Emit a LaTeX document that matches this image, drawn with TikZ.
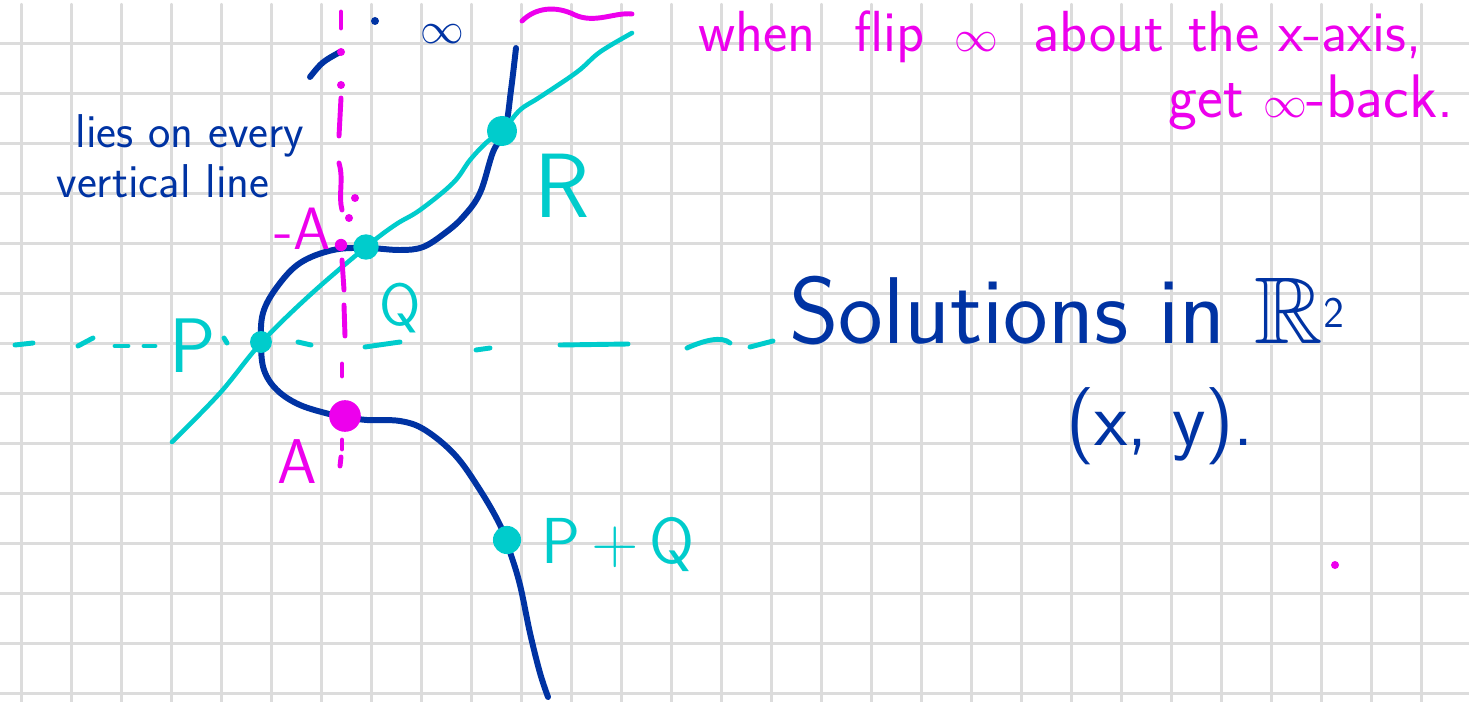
\documentclass[tikz,border=0pt]{standalone}
\usepackage{amssymb}
\usetikzlibrary{positioning}
\definecolor{hblue}{RGB}{0, 51, 163}
\definecolor{hcyan}{RGB}{0, 204, 204}
\definecolor{hpink}{RGB}{237, 0, 237}
\definecolor{hgrid}{RGB}{220, 220, 220}

\begin{document}
\begin{tikzpicture}[x=0.02cm,y=-0.02cm,line cap=round,line join=round]
    \tikzstyle{every node}=[inner sep=0,outer sep=0]
    \tikzset{hand/.style={font=\sffamily\fontsize{#1}{#1}\selectfont},
             spot/.style={circle,fill=#1,minimum size=14pt}}
    \fill[white] (0,0) rectangle (1469,702);
    \useasboundingbox (0,0) rectangle (1469,702);
    % squared paper
    \foreach \x in {21.5,71.5,...,1421.5}
        \draw[hgrid,line width=1.2pt] (\x,4) -- (\x,702);
    \foreach \y in {43.5,93.5,...,693.5}
        \draw[hgrid,line width=1.2pt] (0,\y) -- (1469,\y);

    % the curve
    \draw[hblue,line width=3.4pt] plot[smooth,tension=0.6] coordinates {
        (516,48) (511,90) (505,130) (493,152) (480,193) (463,217) (445,233)
        (423,247) (400,250) (367,248) (333,250) (300,263) (277,287) (263,313)
        (261,343) (264,370) (277,390) (300,405) (333,415) (345,417) (367,420)
        (400,421) (425,430) (455,455) (480,490) (500,525) (510,552) (520,585)
        (530,633) (540,673) (548,697)};
    \draw[hblue,line width=3.4pt] (310,77) .. controls (322,62) .. (340,52);

    % the line through P, Q, R
    \draw[hcyan,line width=2.6pt] plot[smooth,tension=0.6] coordinates {
        (172,442) (220,393) (261,343) (310,295) (366,247) (395,225) (420,210)
        (453,183) (470,160) (487,142) (503,130) (520,110) (540,97) (577,72)
        (600,52) (632,33)};

    % horizontal through P
    \foreach \xa/\ya/\xb/\yb in {15/345/33/343, 78/346/93/338, 115/346/128/346,
        144/346/155/346, 224/338/227/343, 298/342/311/345, 365/347/400/342,
        476/350/490/348, 560/345/628/344, 750/347/773/341}
        \draw[hcyan,line width=2.8pt] (\xa,\ya) -- (\xb,\yb);
    \draw[hcyan,line width=2.8pt] (687,348) .. controls (705,340) and (722,336) .. (730,343);

    % vertical through A
    \foreach \xa/\ya/\xb/\yb in {341/12/341/28, 341/98/339/136, 342/260/344/290,
        344/305/345/336, 342/364/342/376, 342/440/342/449, 341/457/340/466}
        \draw[hpink,line width=2.8pt] (\xa,\ya) -- (\xb,\yb);
    \draw[hpink,line width=2.8pt] (339,163) .. controls (344,180) and (338,195) .. (342,210);
    \foreach \p in {(341,52),(341,85),(355,198),(349,218),(1335,565)}
        \fill[hpink] \p circle (4);
    \draw[hpink,line width=2.8pt] (522,21) .. controls (535,8) and (555,5) .. (575,15)
        .. controls (595,24) and (615,12) .. (632,14);

    % points
    \node[spot=hcyan,minimum size=12.5pt] (P) at (261,342) {};
    \node[spot=hcyan,minimum size=14.5pt] (Q) at (366,247) {};
    \node[spot=hcyan,minimum size=17pt] (R) at (502,131) {};
    \node[spot=hcyan,minimum size=16pt] (PQ) at (507,540) {};
    \node[spot=hpink,minimum size=18pt] (A) at (345,416) {};
    \node[spot=hpink,minimum size=7pt] (mA) at (341,245) {};
    \fill[hblue] (375,21) circle (4);

    % labels
    \node[hand=44pt,hcyan,anchor=base] (Plab) at (193,372) {P};
    \node[hand=34pt,hcyan,anchor=base] (Qlab) at (400,325) {Q};
    \node[hand=52pt,hcyan,anchor=base] (Rlab) at (562,218) {R};
    \node[hand=37pt,hcyan,anchor=base] (PQlab) at (618,563) {P\,+\,Q};
    \node[hand=34pt,hpink,anchor=base] (mAlab) at (303,250) {-A};
    \node[hand=36pt,hpink,anchor=base] (Alab) at (297,483) {A};
    \node[hand=25pt,hblue,anchor=base] (inf) at (442,44) {$\infty$};

    % notes
    \node[hand=27pt,hblue,anchor=base] (note1) at (190,148) {lies on every};
    \node[hand=27pt,hblue,anchor=base] (note2) at (163,198) {vertical line};
    \node[hand=33pt,hpink,anchor=base] (flip1) at (1060,52)
        {when\hspace{0.35em} flip\hspace{0.2em} $\infty$\hspace{0.3em} about\hspace{0.1em} the x-axis,};
    \node[hand=35pt,hpink,anchor=base] (flip2) at (1311,118) {get $\infty$-back.};
    \node[hand=54pt,hblue,anchor=base] (sol) at (1067,343) {Solutions in $\mathbb{R}^{\mathsf{2}}$};
    \node[hand=44pt,hblue,anchor=base] (xy) at (1160,445) {(x, y).};
\end{tikzpicture}
\end{document}
